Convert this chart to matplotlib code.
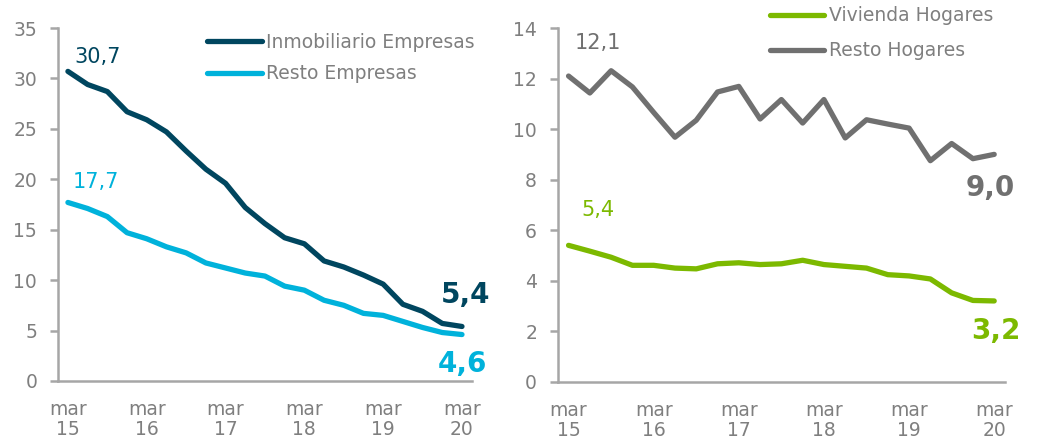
import matplotlib
matplotlib.use("Agg")
import matplotlib.pyplot as plt
import numpy as np

# quarterly data, mar 15 .. mar 20
inmob_empresas = [30.7, 29.4, 28.7, 26.7, 25.9, 24.7, 22.8, 21.0, 19.6, 17.2, 15.6,
                  14.2, 13.6, 11.9, 11.3, 10.5, 9.6, 7.6, 6.9, 5.7, 5.4]
resto_empresas = [17.7, 17.1, 16.3, 14.7, 14.1, 13.3, 12.7, 11.7, 11.2, 10.7, 10.4,
                  9.4, 9.0, 8.0, 7.5, 6.7, 6.5, 5.9, 5.3, 4.8, 4.6]
vivienda_hogares = [5.4, 5.17, 4.93, 4.61, 4.61, 4.50, 4.47, 4.67, 4.71, 4.64, 4.67,
                    4.81, 4.64, 4.57, 4.50, 4.24, 4.19, 4.07, 3.52, 3.22, 3.2]
resto_hogares = [12.1, 11.43, 12.31, 11.67, 10.66, 9.68, 10.35, 11.47, 11.69, 10.40, 11.17,
                 10.24, 11.17, 9.65, 10.37, 10.20, 10.04, 8.75, 9.43, 8.83, 9.0]
tick_labels = ['mar\n15', 'mar\n16', 'mar\n17', 'mar\n18', 'mar\n19', 'mar\n20']

c_inmob = '#00465f'
c_resto = '#00b2db'
c_viv = '#7cb900'
c_rh = '#707070'
c_txt = '#7f7f7f'
c_axis = '#a6a6a6'

plt.rcParams['font.family'] = ['DejaVu Sans']

x = np.arange(len(inmob_empresas))
tick_pos = x[::4]

fig = plt.figure(figsize=(10.37, 4.45), dpi=100)
ax1 = fig.add_axes([0.056, 0.144, 0.399, 0.793])
ax2 = fig.add_axes([0.538, 0.142, 0.431, 0.795])


def style(ax, ymax, step):
    ax.set_xlim(-0.5, 20.5)
    ax.set_ylim(0, ymax)
    ax.set_yticks(np.arange(0, ymax + 0.1, step))
    ax.set_xticks(tick_pos)
    ax.set_xticklabels(tick_labels, linespacing=1.05)
    for s in ['top', 'right']:
        ax.spines[s].set_visible(False)
    for s in ['left', 'bottom']:
        ax.spines[s].set_color(c_axis)
        ax.spines[s].set_linewidth(1.8)
    ax.tick_params(axis='y', colors=c_axis, labelcolor=c_txt, labelsize=13.5,
                   length=6, width=1.8, pad=9)
    ax.tick_params(axis='x', length=0, labelcolor=c_txt, labelsize=13.5, pad=14)


lw = 3.8
ax1.plot(x, inmob_empresas, color=c_inmob, lw=lw, label='Inmobiliario Empresas',
         solid_capstyle='round', solid_joinstyle='round')
ax1.plot(x, resto_empresas, color=c_resto, lw=lw, label='Resto Empresas',
         solid_capstyle='round', solid_joinstyle='round')
style(ax1, 35, 5)
ax1.text(1.5, 32.1, '30,7', color=c_inmob, fontsize=15, ha='center', va='center')
ax1.text(1.4, 19.7, '17,7', color=c_resto, fontsize=15, ha='center', va='center')
ax1.text(20.2, 8.5, '5,4', color=c_inmob, fontsize=20, fontweight='bold', ha='center', va='center')
ax1.text(20.0, 1.7, '4,6', color=c_resto, fontsize=20, fontweight='bold', ha='center', va='center')
ax1.legend(loc='upper left', bbox_to_anchor=(0.2, 0.926), bbox_transform=fig.transFigure,
           frameon=False, fontsize=13.5, labelcolor=c_txt, handlelength=2.9,
           handletextpad=0.25, labelspacing=0.65, borderpad=0, borderaxespad=0)

ax2.plot(x, vivienda_hogares, color=c_viv, lw=lw, label='Vivienda Hogares',
         solid_capstyle='round', solid_joinstyle='round')
ax2.plot(x, resto_hogares, color=c_rh, lw=lw, label='Resto Hogares',
         solid_capstyle='round', solid_joinstyle='round')
style(ax2, 14, 2)
ax2.text(1.4, 13.4, '12,1', color=c_rh, fontsize=15, ha='center', va='center')
ax2.text(1.4, 6.8, '5,4', color=c_viv, fontsize=15, ha='center', va='center')
ax2.text(19.8, 7.67, '9,0', color=c_rh, fontsize=20, fontweight='bold', ha='center', va='center')
ax2.text(20.1, 2.0, '3,2', color=c_viv, fontsize=20, fontweight='bold', ha='center', va='center')
ax2.legend(loc='upper left', bbox_to_anchor=(0.7425, 0.986), bbox_transform=fig.transFigure,
           frameon=False, fontsize=13.5, labelcolor=c_txt, handlelength=2.9,
           handletextpad=0.25, labelspacing=0.85, borderpad=0, borderaxespad=0)

fig.savefig('out.png', dpi=100)
